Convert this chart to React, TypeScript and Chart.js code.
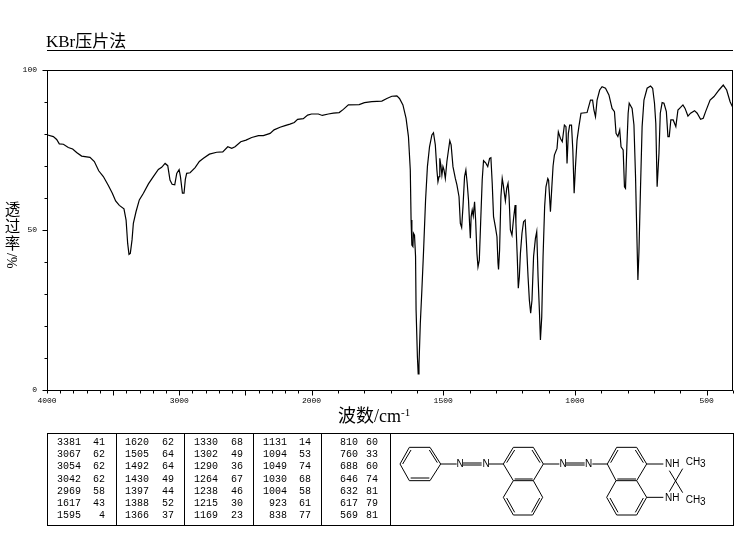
import React, { useEffect, useRef } from "react";
import { Chart, LinearScale, registerables } from "chart.js";

// ---- Spectrum trace ----
const wavenumbers = [
  3995, 3952, 3927, 3907, 3876, 3839, 3806, 3776, 3738, 3675, 3642, 3609, 3574, 3536, 3506, 3481, 3453, 3418, 3402, 3390,
  3380, 3370, 3357, 3347, 3327, 3302, 3271, 3233, 3196, 3158, 3133, 3107, 3087, 3070, 3054, 3034, 3019, 3001, 2991, 2976,
  2964, 2954, 2944, 2918, 2880, 2848, 2817, 2772, 2717, 2671, 2633, 2603, 2578, 2535, 2495, 2452, 2401, 2364, 2313, 2283,
  2238, 2200, 2163, 2130, 2105, 2062, 2029, 2000, 1974, 1959, 1936, 1917, 1895, 1879, 1860, 1819, 1799, 1771, 1733, 1714,
  1695, 1676, 1666, 1653, 1641, 1632, 1625, 1622, 1619, 1615, 1613, 1609, 1605, 1603, 1598, 1595, 1592, 1587, 1581, 1575,
  1567, 1560, 1552, 1543, 1537, 1530, 1524, 1520, 1516, 1513, 1509, 1505, 1501, 1497, 1492, 1486, 1480, 1475, 1470, 1463,
  1454, 1448, 1440, 1435, 1430, 1425, 1419, 1414, 1409, 1404, 1400, 1397, 1394, 1390, 1386, 1381, 1377, 1372, 1368, 1363,
  1358, 1352, 1347, 1339, 1331, 1324, 1319, 1314, 1309, 1302, 1296, 1292, 1290, 1286, 1281, 1276, 1272, 1268, 1264, 1259,
  1254, 1250, 1245, 1239, 1233, 1227, 1224, 1219, 1215, 1211, 1207, 1201, 1195, 1189, 1184, 1178, 1173, 1168, 1163, 1157,
  1150, 1145, 1140, 1135, 1131, 1126, 1121, 1115, 1110, 1103, 1100, 1093, 1088, 1083, 1078, 1068, 1063, 1055, 1048, 1040,
  1034, 1030, 1025, 1020, 1013, 1008, 1003, 998, 992, 985, 977, 954, 946, 941, 933, 928, 922, 916, 906, 897,
  884, 871, 859, 850, 844, 837, 830, 825, 817, 812, 808, 803, 798, 794, 783, 776, 770, 766, 761, 757,
  751, 745, 738, 726, 713, 705, 698, 693, 688, 681, 676, 669, 662, 653, 647, 642, 636, 627, 617, 609,
  599, 590, 582, 571, 561, 546, 536, 523, 513, 504, 487, 472, 453, 437, 424, 411, 402,
];
const transmittance = [
  79.7, 79.2, 78.3, 76.9, 76.8, 75.8, 75.3, 74.2, 73.1, 72.7, 71.4, 68.5, 66.7, 63.9, 61.5, 59.1, 57.7, 56.6, 53.1, 45.8,
  42.4, 42.7, 46.9, 52.1, 55.7, 59.4, 61.5, 64.4, 66.7, 68.9, 69.6, 70.8, 70.1, 65.6, 64.3, 64.1, 67.7, 68.9, 66.7, 61.5,
  61.5, 65.8, 67.7, 67.9, 69.5, 71.4, 72.4, 73.7, 74.3, 74.4, 76.0, 75.5, 76.0, 77.6, 78.1, 78.9, 79.5, 79.5, 80.2, 81.3,
  82.1, 82.6, 83.1, 83.6, 84.6, 84.8, 85.9, 86.25, 86.25, 85.8, 86.25, 86.5, 86.7, 87.7, 89.1, 89.2, 89.8, 90.1, 90.3, 91.1,
  91.8, 91.9, 91.1, 89.1, 84.9, 79.2, 68.75, 53.1, 45.3, 44.8, 49, 48.4, 41.7, 25, 10.4, 5, 7.8, 20.8, 31.25, 42.7,
  59.4, 69.8, 76.0, 79.7, 80.4, 76.6, 68.75, 65.1, 66.7, 72.4, 70.3, 67.2, 69.8, 68.75, 66.1, 71.4, 75, 77.9, 76.6, 69.8,
  66.1, 64.1, 60.4, 52.1, 50.8, 57.3, 66.7, 68.75, 64.6, 59.4, 52.1, 47.4, 54.2, 56.25, 54.4, 58.8, 53.1, 42.7, 38.5, 40.6,
  52.1, 65.6, 71.7, 71.0, 69.8, 72.4, 72.6, 64.6, 54.2, 51.0, 47.9, 39.6, 37.7, 43.75, 60.4, 66.1, 64.1, 61.5, 59.1, 63,
  64.6, 60.4, 50, 48.4, 53.6, 57.8, 52.1, 41.7, 31.8, 35.4, 42.7, 49, 52.6, 53.1, 45.8, 35.4, 28.1, 24, 28.1, 41.7,
  47.4, 49.5, 35.4, 25, 15.6, 22.9, 41.7, 57.3, 63.5, 66.1, 65.6, 55.7, 63, 70, 73.4, 75.5, 80.7, 78.6, 77.6, 82.8,
  82.3, 70.8, 80.2, 82.8, 82.8, 75, 61.5, 69.8, 78.1, 82.3, 86.5, 86.7, 89.1, 90.6, 90.6, 87.5, 85.4, 90.6, 93.75, 94.8,
  94.3, 92.2, 88, 87, 80.2, 79.2, 81.25, 76, 75, 63.5, 63, 76, 86.5, 89.6, 88, 82.8, 66.7, 52.1, 34.4, 43.2,
  63.5, 82.3, 90.6, 94.3, 95, 94.3, 89.6, 83.3, 63.5, 74, 86.5, 89.8, 89.6, 87, 79.2, 79.2, 84.4, 84.4, 82.3, 87.5,
  88.3, 89.1, 88, 85.6, 86.5, 87.3, 86.5, 84.6, 84.9, 87, 90.6, 91.7, 93.75, 95.3, 93.75, 90.1, 88.5,
];

// ---- Axes ----
const xTickValues = [4000, 3900, 3800, 3700, 3600, 3500, 3400, 3300, 3200, 3100, 3000, 2900, 2800, 2700, 2600, 2500, 2400, 2300, 2200, 2100, 2000, 1900, 1800, 1700, 1600, 1500, 1400, 1300, 1200, 1100, 1000, 900, 800, 700, 600, 500, 400];
const xMajorTicks = [3500, 3000, 2500, 2000, 1500, 1000, 500];
const xTickLabels = [4000, 3000, 2000, 1500, 1000, 500];
const yTickLabels = [0, 50, 100];
const yTitleChars = ["透", "过", "率"];

// ---- Peak table ----
const peakWavenumbers = [
  "3381", "3067", "3054", "3042", "2969", "1617", "1595",
  "1620", "1505", "1492", "1430", "1397", "1388", "1366",
  "1330", "1302", "1290", "1264", "1238", "1215", "1169",
  "1131", "1094", "1049", "1030", "1004", "923", "838",
  "810", "760", "688", "646", "632", "617", "569",
];
const peakValues = [
  "41", "62", "62", "62", "58", "43", "4",
  "62", "64", "64", "49", "44", "52", "37",
  "68", "49", "36", "67", "46", "30", "23",
  "14", "53", "74", "68", "58", "61", "77",
  "60", "33", "60", "74", "81", "79", "81",
];
const tableDividers = [116, 184, 253, 321, 390];
const waveRight = [81, 149, 218, 287, 358];
const valueRight = [105, 174, 243, 311, 378];

const SERIF = '"Liberation Serif", "Noto Sans CJK SC", serif';
const MONO = '"Liberation Mono", monospace';

// The x axis has a 2:1 scale change at 2000 cm-1.
const BREAK_VALUE = 2000;
const BREAK_FRACTION = 264.5 / 686;

class SpectrumScale extends LinearScale {
  static id = "spectrum";
  static defaults = {};
  getPixelForValue(value: number) {
    if (value === null || value === undefined) return NaN;
    const f =
      value >= BREAK_VALUE
        ? ((4000 - value) / (4000 - BREAK_VALUE)) * BREAK_FRACTION
        : BREAK_FRACTION + ((BREAK_VALUE - value) / (BREAK_VALUE - 400)) * (1 - BREAK_FRACTION);
    return this.getPixelForDecimal(f);
  }
  getValueForPixel(pixel: number) {
    const f = this.getDecimalForPixel(pixel);
    return f <= BREAK_FRACTION
      ? 4000 - (f / BREAK_FRACTION) * (4000 - BREAK_VALUE)
      : BREAK_VALUE - ((f - BREAK_FRACTION) / (1 - BREAK_FRACTION)) * (BREAK_VALUE - 400);
  }
}

Chart.register(...registerables, SpectrumScale as any);

const frameAndTicks = {
  id: "frameAndTicks",
  afterDraw(chart: any) {
    const { ctx, chartArea: a, scales } = chart;
    const l = Math.round(a.left) + 0.5;
    const r = Math.round(a.right) - 0.5;
    const t = Math.round(a.top) + 0.5;
    const b = Math.round(a.bottom) + 0.5;
    ctx.save();
    ctx.strokeStyle = "#000";
    ctx.lineWidth = 1;
    ctx.strokeRect(l, t, r - l, b - t);
    ctx.beginPath();
    for (const tick of scales.x.ticks) {
      const x = Math.round(scales.x.getPixelForValue(tick.value)) + 0.5;
      ctx.moveTo(x, b);
      ctx.lineTo(x, b + (xMajorTicks.includes(tick.value) ? 5 : 3));
    }
    for (const tick of scales.y.ticks) {
      const y = Math.round(scales.y.getPixelForValue(tick.value)) + 0.5;
      ctx.moveTo(l, y);
      ctx.lineTo(l - (yTickLabels.includes(tick.value) ? 5 : 3), y);
    }
    ctx.stroke();
    ctx.restore();
  },
};

function PeakTable() {
  const cells: React.ReactNode[] = [];
  peakWavenumbers.forEach((w, i) => {
    const col = Math.floor(i / 7);
    const row = i % 7;
    const top = 437 + row * 12.2;
    const base: React.CSSProperties = {
      position: "absolute",
      top,
      height: 12,
      lineHeight: "12px",
      fontFamily: MONO,
      fontSize: 10,
      color: "#000",
      whiteSpace: "pre",
    };
    cells.push(
      <span key={"w" + i} style={{ ...base, right: 737 - waveRight[col] }}>{w}</span>,
      <span key={"v" + i} style={{ ...base, right: 737 - valueRight[col] }}>{peakValues[i]}</span>
    );
  });
  return (
    <>
      <div style={{ position: "absolute", left: 47, top: 433, width: 685, height: 91, border: "1px solid #000" }} />
      {tableDividers.map((x) => (
        <div key={x} style={{ position: "absolute", left: x, top: 433, width: 1, height: 92, background: "#000" }} />
      ))}
      {cells}
    </>
  );
}

const bonds: number[][] = [
  // phenyl ring
  [88, 82, 150, 82], [150, 82, 182, 132], [182, 132, 150, 182], [150, 182, 88, 182], [88, 182, 60, 132], [60, 132, 88, 82],
  [68, 132, 93, 90], [148, 90, 172, 128], [148, 174, 92, 174],
  [182, 132, 230, 132], [249, 129, 305, 129], [249, 135, 305, 135], [327, 132, 370, 132],
  // middle naphthalene
  [400, 82, 460, 82], [460, 82, 490, 132], [490, 132, 460, 182], [460, 182, 400, 182], [400, 182, 370, 132], [370, 132, 400, 82],
  [380, 128, 404, 90], [456, 90, 480, 128], [404, 177, 458, 177],
  [400, 182, 370, 232], [370, 232, 400, 285], [400, 285, 458, 285], [458, 285, 488, 232], [488, 232, 460, 182],
  [380, 234, 404, 277], [455, 277, 479, 234],
  [490, 132, 538, 132], [558, 129, 614, 129], [558, 135, 614, 135], [637, 132, 682, 132],
  // right naphthalene
  [710, 82, 770, 82], [770, 82, 800, 132], [800, 132, 770, 182], [770, 182, 708, 182], [708, 182, 682, 132], [682, 132, 710, 82],
  [692, 128, 714, 90], [766, 90, 790, 128], [712, 177, 768, 177],
  [708, 182, 680, 232], [680, 232, 710, 285], [710, 285, 770, 285], [770, 285, 800, 232], [800, 232, 770, 182],
  [690, 234, 714, 277], [766, 277, 790, 234],
  [800, 132, 850, 132], [800, 232, 850, 232],
  [868, 152, 908, 218], [908, 146, 868, 215],
];

const atomLabels: [string, number, number][] = [
  ["N", 240, 142], ["N", 318, 142], ["N", 549, 142], ["N", 626, 142],
  ["NH", 855, 142], ["NH", 855, 242],
];
const methylLabels: [number, number][] = [[917, 136], [917, 250]];

function Molecule() {
  return (
    <svg
      width={342}
      height={90}
      viewBox="33 42 1026 270"
      style={{ position: "absolute", left: 391, top: 434 }}
    >
      {bonds.map(([a, b, c, d], i) => (
        <line key={i} x1={a} y1={b} x2={c} y2={d} stroke="#000" strokeWidth={3} />
      ))}
      {atomLabels.map(([s, x, y], i) => (
        <text key={i} x={x} y={y} textAnchor={s === "N" ? "middle" : "start"} fontFamily='"Liberation Sans", sans-serif' fontSize={30} fill="#000">{s}</text>
      ))}
      {methylLabels.map(([x, y], i) => (
        <text key={i} x={x} y={y} fontFamily='"Liberation Sans", sans-serif' fontSize={30} fill="#000">
          CH<tspan dy={5}>3</tspan>
        </text>
      ))}
    </svg>
  );
}

export default function App() {
  const ref = useRef<HTMLCanvasElement>(null);
  useEffect(() => {
    const chart = new Chart(ref.current as HTMLCanvasElement, {
      type: "line",
      data: {
        datasets: [
          {
            data: wavenumbers.map((w, i) => ({ x: w, y: transmittance[i] })),
            borderColor: "#000",
            borderWidth: 1.2,
            pointRadius: 0,
            tension: 0,
            fill: false,
          },
        ],
      },
      options: {
        animation: false,
        responsive: false,
        events: [],
        layout: { padding: { left: 0, right: 4, top: 70, bottom: 109 } },
        plugins: { legend: { display: false }, tooltip: { enabled: false } },
        scales: {
          x: {
            type: "spectrum" as any,
            min: 400,
            max: 4000,
            afterBuildTicks: (s: any) => {
              s.ticks = xTickValues.map((value) => ({ value }));
            },
            afterFit: (s: any) => {
              s.height = 40;
            },
            grid: { display: false, drawTicks: true, tickLength: 6 },
            border: { display: false },
            ticks: {
              autoSkip: false,
              maxRotation: 0,
              padding: 0,
              color: "#000",
              font: { family: MONO, size: 8 },
              callback: (v: any) => (xTickLabels.includes(Number(v)) ? String(v) : ""),
            },
          },
          y: {
            min: 0,
            max: 100,
            afterFit: (s: any) => {
              s.width = 47;
            },
            grid: { display: false, drawTicks: true, tickLength: 10 },
            border: { display: false },
            ticks: {
              stepSize: 10,
              autoSkip: false,
              padding: 0,
              color: "#000",
              font: { family: MONO, size: 8 },
              callback: (v: any) => (yTickLabels.includes(Number(v)) ? String(v) : ""),
            },
          },
        },
      },
      plugins: [frameAndTicks],
    } as any);
    return () => chart.destroy();
  }, []);

  const glyph: React.CSSProperties = { position: "absolute", fontFamily: SERIF, color: "#000", whiteSpace: "pre" };
  return (
    <div style={{ position: "absolute", left: 0, top: 0, width: 737, height: 539, background: "#fff", overflow: "hidden" }}>
      <canvas ref={ref} width={737} height={539} style={{ position: "absolute", left: 0, top: 0, width: 737, height: 539 }} />
      <span style={{ ...glyph, left: 46, top: 32, fontSize: 17, lineHeight: "20px" }}>KBr压片法</span>
      <div style={{ position: "absolute", left: 47, top: 50, width: 686, height: 1, background: "#000" }} />
      {yTitleChars.map((c, i) => (
        <span key={c} style={{ ...glyph, left: 4, top: 201 + i * 17, width: 17, height: 17, fontSize: 15.5, lineHeight: "17px", textAlign: "center" }}>{c}</span>
      ))}
      <span style={{ ...glyph, left: 4, top: 253, width: 17, writingMode: "vertical-rl", transform: "rotate(180deg)", fontSize: 14, lineHeight: "17px" }}>%/</span>
      <span style={{ ...glyph, left: 338, top: 406, fontSize: 18, lineHeight: "20px" }}>
        波数/cm<sup style={{ fontSize: 11, lineHeight: 0, verticalAlign: "6px" }}>-1</sup>
      </span>
      <PeakTable />
      <Molecule />
    </div>
  );
}
